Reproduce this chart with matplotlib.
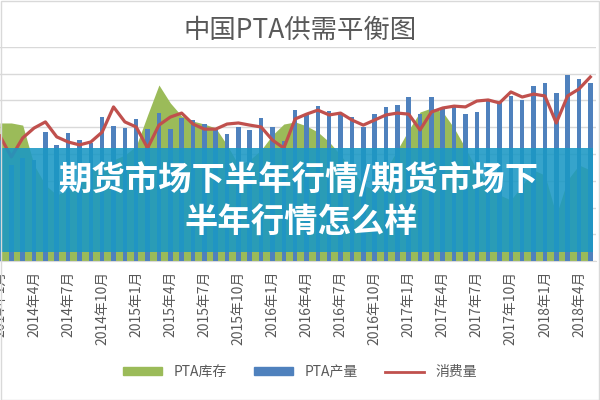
import matplotlib
matplotlib.use("Agg")
from matplotlib import pyplot as plt
from matplotlib.patches import Rectangle, Patch
from matplotlib.lines import Line2D

plt.rcParams['font.family'] = ['Noto Sans CJK SC', 'DejaVu Sans']

# 月份 2014年1月 ~ 2018年5月
months = ["%d年%d月" % (2014 + k // 12, k % 12 + 1) for k in range(53)]

# PTA库存 (面积)
stock = [51.6, 51.6, 50.8, 35.9, 28.4, 24.7, 26.5, 28.4, 34.0, 35.9,
         37.8, 39.6, 43.0, 54.6, 65.8, 59.1, 54.2, 52.3, 51.2, 49.7,
         43.4, 35.9, 37.8, 41.5, 47.1, 51.2, 52.0, 50.5, 48.2, 44.5,
         39.6, 34.0, 28.4, 26.5, 34.0, 41.5, 49.0, 55.7, 57.2, 55.7,
         49.7, 42.2, 34.0, 28.4, 24.7, 22.8, 28.4, 34.0, 32.1, 17.2,
         30.3, 35.9, 34.0]

# PTA产量 (柱)
output = [46.0, 35.9, 38.5, 37.8, 48.2, 43.4, 47.8, 45.2, 44.1, 53.8,
          50.5, 49.7, 53.1, 49.3, 55.3, 49.3, 53.5, 52.7, 51.2, 49.0,
          47.5, 50.1, 49.0, 53.5, 50.1, 44.9, 56.4, 54.6, 57.9, 56.1,
          54.9, 53.8, 50.1, 54.9, 57.6, 58.3, 61.3, 54.9, 61.3, 56.8,
          57.6, 54.9, 55.7, 60.2, 59.4, 61.7, 60.2, 65.4, 66.5, 62.8,
          69.5, 68.0, 66.5]

# 消费量 (折线)
consume = [46.7, 38.9, 46.0, 49.7, 52.0, 46.4, 44.5, 43.4, 44.5, 48.2,
           57.6, 52.0, 50.1, 42.2, 50.8, 53.8, 55.3, 51.2, 49.3, 49.3,
           51.2, 51.6, 50.8, 50.1, 45.2, 42.2, 53.1, 54.9, 56.4, 54.6,
           55.3, 52.7, 50.8, 52.7, 54.6, 55.3, 54.9, 49.0, 55.7, 57.2,
           57.9, 57.6, 59.8, 60.2, 59.1, 63.2, 61.3, 62.4, 61.7, 51.6,
           61.7, 64.3, 68.8]

GREEN = '#9bbb59'
BLUE = '#4f81bd'
RED = '#c0504d'
GREY = '#595959'

fig = plt.figure(figsize=(6, 4), dpi=100, facecolor='white')
ax = fig.add_axes([0.0, 0.3475, 596 / 600, 0.535])

xs = list(range(len(months)))
ax.fill_between(xs, stock, 0, color=GREEN, lw=0, zorder=2)
ax.bar(xs, output, width=0.4, color=BLUE, zorder=3)
ax.plot(xs, consume, color=RED, lw=2.3, zorder=4)

ax.set_xlim(0.228, 52.5)
ax.set_ylim(0, 80)
ax.set_yticks(range(0, 81, 10))
ax.yaxis.grid(True, color='#d9d9d9', lw=1, zorder=0)
ax.set_axisbelow(True)
ax.tick_params(axis='y', left=False, labelleft=False)
for s in ['top', 'left', 'right']:
    ax.spines[s].set_visible(False)
ax.spines['bottom'].set_color('#d9d9d9')

ax.set_xticks(xs[::3])
ax.set_xticklabels(months[::3], rotation=90, fontsize=10, color=GREY)
ax.tick_params(axis='x', length=0, pad=7)

fig.text(0.5, 0.925, "中国PTA供需平衡图", ha='center', va='center',
         fontsize=19, color=GREY)

handles = [Patch(color=GREEN), Patch(color=BLUE), Line2D([], [], color=RED, lw=2)]
fig.legend(handles, ["PTA库存", "PTA产量", "消费量"], loc='center',
           bbox_to_anchor=(0.5, 0.07), ncol=3, frameon=False, fontsize=10,
           handlelength=2.8, handleheight=0.45, columnspacing=2.0,
           labelcolor=GREY)

# 覆盖的标题横幅
fig.patches.append(Rectangle((0, 0.37), 593 / 600, 0.26, transform=fig.transFigure,
                             facecolor='#1a98c4', alpha=0.88, lw=0, zorder=10))
fig.text(0.497, 0.55, "期货市场下半年行情/期货市场下", ha='center', va='center',
         fontsize=24, color='white', weight='bold', zorder=11)
fig.text(0.502, 0.445, "半年行情怎么样", ha='center', va='center',
         fontsize=24, color='white', weight='bold', zorder=11)

fig.patches.append(Rectangle((0.001, 0.001), 0.998, 0.997, transform=fig.transFigure,
                             facecolor='none', edgecolor='#d9d9d9', lw=1, zorder=12))

fig.savefig("out.png", dpi=100)
